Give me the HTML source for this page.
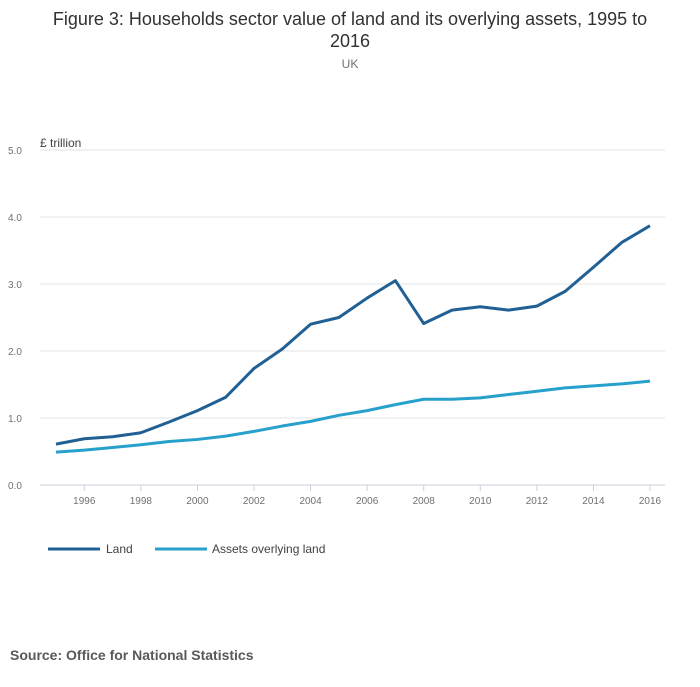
<!DOCTYPE html>
<html><head><meta charset="utf-8"><style>
body{margin:0;background:#fff;font-family:"Liberation Sans","DejaVu Sans",sans-serif;}
svg text{font-family:"Liberation Sans","DejaVu Sans",sans-serif;}
</style></head><body>
<svg id="chart" width="700" height="682" viewBox="0 0 700 682" xmlns="http://www.w3.org/2000/svg">
<text x="350" y="25" text-anchor="middle" font-size="18" fill="#323132">Figure 3: Households sector value of land and its overlying assets, 1995 to</text>
<text x="350" y="47" text-anchor="middle" font-size="18" fill="#323132">2016</text>
<text x="350" y="68" text-anchor="middle" font-size="12" fill="#707071">UK</text>
<text x="40" y="147" font-size="12" fill="#414042">£ trillion</text>
<g id="grid"></g><g id="lines"></g>
<g>
<line x1="48" y1="549" x2="100" y2="549" stroke="#206095" stroke-width="3"/>
<text x="106" y="553" font-size="12" fill="#414042">Land</text>
<line x1="155" y1="549" x2="207" y2="549" stroke="#27a0cc" stroke-width="3"/>
<text x="212" y="553" font-size="12" fill="#414042">Assets overlying land</text>
</g>
<text x="10" y="660" font-size="14" font-weight="bold" fill="#58595b">Source: Office for National Statistics</text>
</svg>
<script>
const years=[1995,1996,1997,1998,1999,2000,2001,2002,2003,2004,2005,2006,2007,2008,2009,2010,2011,2012,2013,2014,2015,2016];
const land=[0.61,0.69,0.72,0.78,0.94,1.11,1.31,1.74,2.03,2.40,2.50,2.79,3.05,2.41,2.61,2.66,2.61,2.67,2.89,3.25,3.62,3.87];
const assets=[0.49,0.52,0.56,0.60,0.65,0.68,0.73,0.80,0.88,0.95,1.04,1.11,1.20,1.28,1.28,1.30,1.35,1.40,1.45,1.48,1.51,1.55];
const yTicks=[0,1,2,3,4,5];
const yTickLabels=["0.0","1.0","2.0","3.0","4.0","5.0"];
const xTicks=[1996,1998,2000,2002,2004,2006,2008,2010,2012,2014,2016];
const NS="http://www.w3.org/2000/svg";
const x=v=>56+(v-1995)*(650-56)/21;
const y=v=>485-v*67;
const grid=document.getElementById('grid'),lines=document.getElementById('lines');
function mk(t,a,p){const e=document.createElementNS(NS,t);for(const k in a)e.setAttribute(k,a[k]);p.appendChild(e);return e;}
yTicks.forEach((t,i)=>{
 const l=mk('line',{x1:40,x2:665,y1:y(t),y2:y(t),stroke:t===0?'#c8d0dc':'#e3e3e3','stroke-width':1},grid);
 
 
 const tx=mk('text',{x:8,y:y(t)+4,'font-size':10,fill:'#707071'},grid);tx.textContent=yTickLabels[i];
 
 
});
xTicks.forEach(t=>{
 const l=mk('line',{x1:x(t),x2:x(t),y1:485,y2:491,stroke:'#c8d0dc'},grid);
 
 
 const tx=mk('text',{x:x(t),y:504,'font-size':10,fill:'#707071','text-anchor':'middle'},grid);tx.textContent=t;
 
 
});
function line(data,color,name){
 const p=mk('polyline',{points:data.map((v,i)=>x(years[i])+','+y(v)).join(' '),fill:'none',stroke:color,'stroke-width':3,'stroke-linejoin':'round'},lines);
 
 
}
line(assets,'#27a0cc','assets-line');
line(land,'#206095','land-line');
</script>
</body></html>
